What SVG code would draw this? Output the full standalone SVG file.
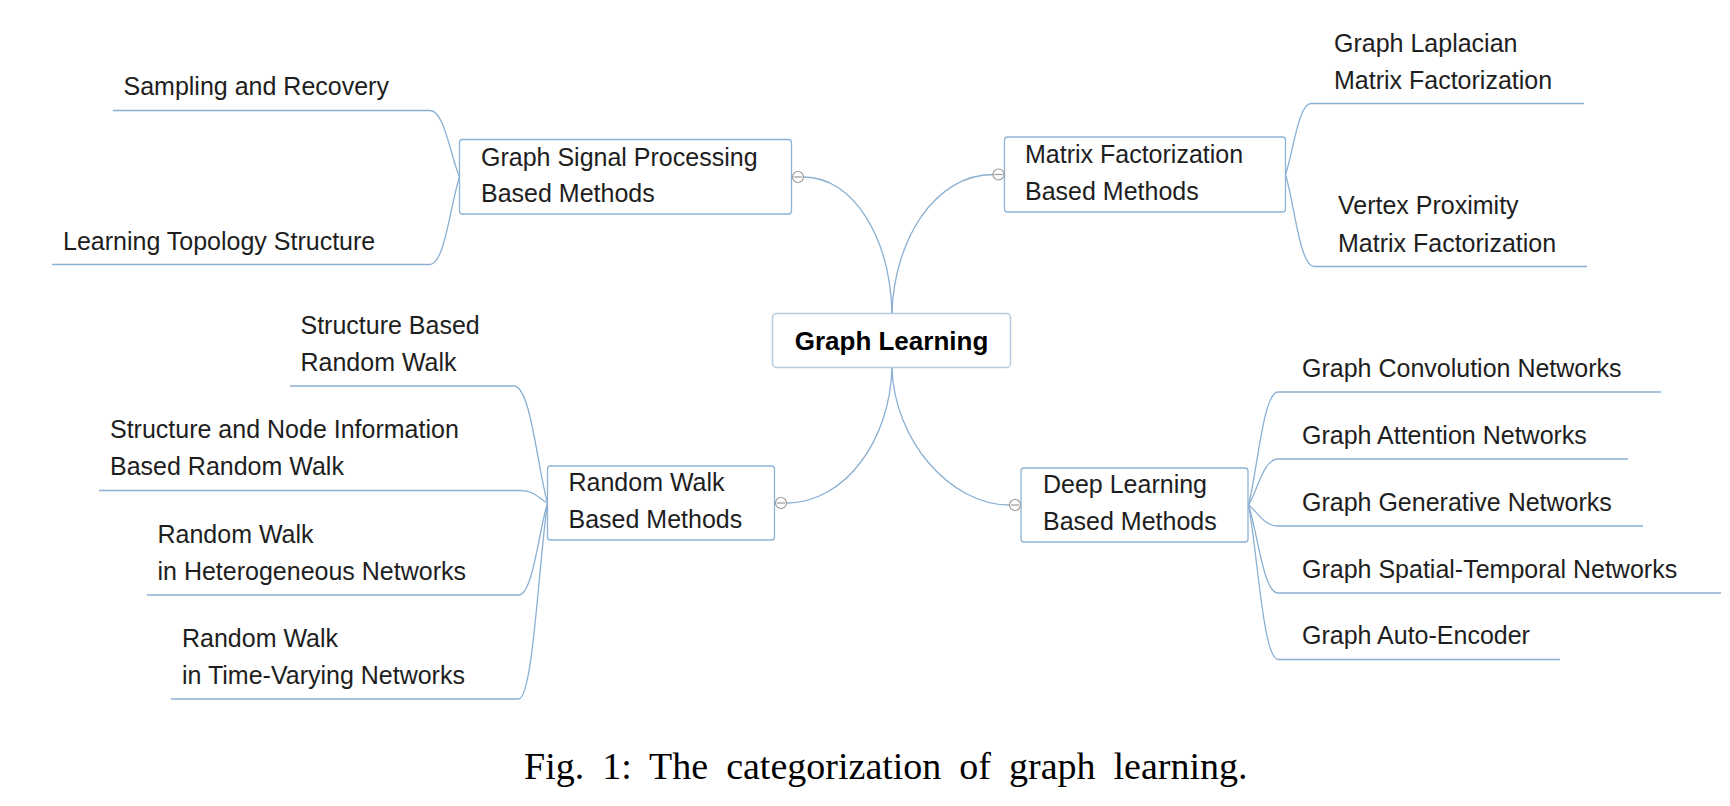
<svg xmlns="http://www.w3.org/2000/svg" width="1730" height="806" viewBox="0 0 1730 806">
<style>
.t{font-family:"Liberation Sans",Arial,sans-serif;font-size:25px;fill:#1e1e1e}
.tb{font-family:"Liberation Sans",Arial,sans-serif;font-size:26px;font-weight:bold;fill:#000}
.box{fill:#fff;stroke:#8db3d5;stroke-width:1.3}
.cbox{fill:#fff;stroke:#b3cce2;stroke-width:1.5}
.ln{fill:none;stroke:#8bb0d2;stroke-width:1.3}
.ic{fill:#fff;stroke:#999;stroke-width:1.2}
.cap{font-family:"Liberation Serif","Times New Roman",serif;font-size:38px;fill:#000;word-spacing:8.5px}
</style>
<rect width="1730" height="806" fill="#fff"/>
<g id="connectors">
<path class="ln" d="M803.5,177 C855,177 890,240 892,313"/>
<path class="ln" d="M993,174.5 C935,174.5 894,240 892,313"/>
<path class="ln" d="M892,368 C890,440 845,503 786.5,503"/>
<path class="ln" d="M892,368 C894,440 950,505 1009.5,505"/>
<path class="ln" d="M459.5,177 C450.6,157 444.75,110.5 430,110.5 H113"/>
<path class="ln" d="M459.5,177 C450.6,203.25 444.75,264.5 430,264.5 H52"/>
<path class="ln" d="M1285.5,174.5 C1293.15,153.2 1298.25,103.5 1311,103.5 H1584"/>
<path class="ln" d="M1285.5,174.5 C1294.05,202.1 1299.75,266.5 1314,266.5 H1587"/>
<path class="ln" d="M547.5,503 C537.45,467.9 530.75,386 514,386 H290"/>
<path class="ln" d="M547.5,503 C539.55,499.25 534.25,490.5 521,490.5 H99"/>
<path class="ln" d="M547.5,503 C538.8,530.6 533,595 518.5,595 H147"/>
<path class="ln" d="M547.5,503 C538.8,561.8 533,699 518.5,699 H171"/>
<path class="ln" d="M1248.5,505 C1257.35,471.1 1263.25,392 1278,392 H1661"/>
<path class="ln" d="M1248.5,505 C1257.35,491.2 1263.25,459 1278,459 H1628"/>
<path class="ln" d="M1248.5,505 C1257.35,511.3 1263.25,526 1278,526 H1643"/>
<path class="ln" d="M1248.5,505 C1257.35,531.4 1263.25,593 1278,593 H1721"/>
<path class="ln" d="M1248.5,505 C1257.35,551.35 1263.25,659.5 1278,659.5 H1560"/>
</g>
<g id="root">
<rect class="cbox" x="772.5" y="313.5" width="238" height="54" rx="4"/>
<text class="tb" x="891.5" y="350" text-anchor="middle">Graph Learning</text>
</g>
<g id="gsp">
<rect class="box" x="459.5" y="139.5" width="332" height="74.5" rx="3"/>
<text class="t" x="481" y="165.5">Graph Signal Processing</text>
<text class="t" x="481" y="202">Based Methods</text>
<circle class="ic" cx="798" cy="177" r="5.5"/><path d="M794,177 H802" stroke="#999" stroke-width="1.2"/>
</g>
<g id="mf">
<rect class="box" x="1004.5" y="137" width="281" height="75" rx="3"/>
<text class="t" x="1025" y="163">Matrix Factorization</text>
<text class="t" x="1025" y="200">Based Methods</text>
<circle class="ic" cx="998.5" cy="174.5" r="5.5"/><path d="M994.5,174.5 H1002.5" stroke="#999" stroke-width="1.2"/>
</g>
<g id="rw">
<rect class="box" x="547.5" y="466" width="227" height="74" rx="3"/>
<text class="t" x="568.5" y="491">Random Walk</text>
<text class="t" x="568.5" y="528">Based Methods</text>
<circle class="ic" cx="781" cy="503" r="5.5"/><path d="M777,503 H785" stroke="#999" stroke-width="1.2"/>
</g>
<g id="dl">
<rect class="box" x="1021" y="468" width="227" height="74" rx="3"/>
<text class="t" x="1043" y="493">Deep Learning</text>
<text class="t" x="1043" y="530">Based Methods</text>
<circle class="ic" cx="1015" cy="505" r="5.5"/><path d="M1011,505 H1019" stroke="#999" stroke-width="1.2"/>
</g>
<g id="gsp-sampling"><text class="t" x="123.5" y="95">Sampling and Recovery</text></g>
<g id="gsp-topology"><text class="t" x="63" y="250">Learning Topology Structure</text></g>
<g id="mf-laplacian"><text class="t" x="1334" y="52">Graph Laplacian</text><text class="t" x="1334" y="89">Matrix Factorization</text></g>
<g id="mf-vertex"><text class="t" x="1338" y="214">Vertex Proximity</text><text class="t" x="1338" y="251.5">Matrix Factorization</text></g>
<g id="rw-structure"><text class="t" x="300.5" y="333.5">Structure Based</text><text class="t" x="300.5" y="371">Random Walk</text></g>
<g id="rw-node"><text class="t" x="110" y="438">Structure and Node Information</text><text class="t" x="110" y="475">Based Random Walk</text></g>
<g id="rw-hetero"><text class="t" x="157.5" y="542.5">Random Walk</text><text class="t" x="157.5" y="580">in Heterogeneous Networks</text></g>
<g id="rw-time"><text class="t" x="182" y="647">Random Walk</text><text class="t" x="182" y="684">in Time-Varying Networks</text></g>
<g id="dl-gcn"><text class="t" x="1302" y="377">Graph Convolution Networks</text></g>
<g id="dl-gat"><text class="t" x="1302" y="444">Graph Attention Networks</text></g>
<g id="dl-gen"><text class="t" x="1302" y="511">Graph Generative Networks</text></g>
<g id="dl-st"><text class="t" x="1302" y="577.5">Graph Spatial-Temporal Networks</text></g>
<g id="dl-ae"><text class="t" x="1302" y="644">Graph Auto-Encoder</text></g>
<text class="cap" x="524" y="779">Fig. 1: The categorization of graph learning.</text>
</svg>
